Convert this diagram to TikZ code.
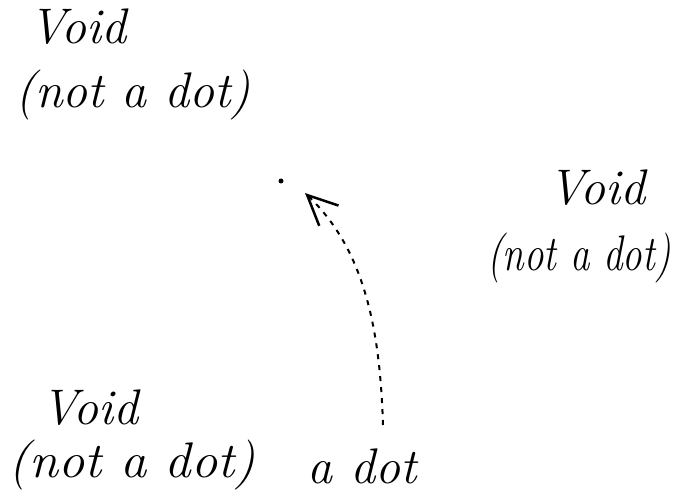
\documentclass[tikz,border=0pt]{standalone}
\usepackage{graphicx}
\usetikzlibrary{arrows.meta}
\begin{document}
\begin{tikzpicture}[x=1pt,y=-1pt,
  hand/.style={font=\fontsize{50}{60}\selectfont\itshape, inner sep=0pt, anchor=center},
  dashcurve/.style={line width=2pt, dash pattern=on 5pt off 6pt,
    -{Straight Barb[length=30pt,width=28pt,line width=2.5pt]}}]
\useasboundingbox[fill=white] (0,0) rectangle (683,500);
\node[hand] (v1) at (78,27) {Void};
\node[hand] (n1) at (133,95) {(not a dot)};
\node[hand] (v2) at (597,188) {Void};
\node[hand] (n2) at (579,258) {\scalebox{0.78}[1]{(not a dot)}};
\node[hand] (v3) at (90,408) {Void};
\node[hand] (n3) at (132,465) {\scalebox{1.05}[1]{(not a dot)}};
\node[hand] (adot) at (362,466) {a dot};
\node[circle, fill=black, inner sep=0pt, minimum size=5pt] (dot) at (281,181) {};
\coordinate (start) at (383,425);
\coordinate (tip) at (305,193);
\draw[dashcurve] (start) .. controls (380,330) and (365,250) .. (tip);
\end{tikzpicture}
\end{document}
